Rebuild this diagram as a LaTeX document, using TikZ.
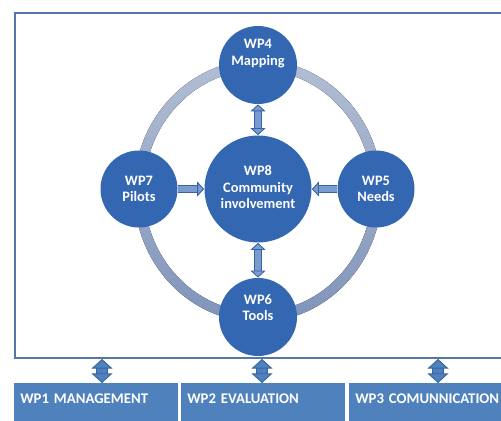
\documentclass[tikz,border=0pt]{standalone}
\usepackage{fontspec}
\setmainfont{Carlito}
\usetikzlibrary{arrows.meta}
\definecolor{wpblue}{RGB}{52,103,178}
\definecolor{ringtop}{RGB}{178,190,212}
\definecolor{ringbot}{RGB}{128,148,186}
\definecolor{framecol}{RGB}{84,118,168}
\definecolor{boxblue}{RGB}{79,129,189}
\definecolor{arrline}{RGB}{58,98,160}
\definecolor{arrfill}{RGB}{120,155,208}
\begin{document}
\begin{tikzpicture}[
  wp/.style={circle,fill=wpblue,text=white,inner sep=0pt,align=center,
    font=\bfseries\fontsize{8.2}{9.5}\selectfont,text depth=2pt},
  wpbox/.style={fill=boxblue,text=white,anchor=north west,align=left,
    font=\bfseries\fontsize{8.4}{9}\selectfont,text width=3.04cm,
    inner xsep=.12cm,inner ysep=.2cm,text height=5.7pt,text depth=1cm},
  link/.style={draw=arrline,double=arrfill,line width=.5pt,double distance=3pt},
  >={Triangle[width=8.5pt,length=4pt,fill=arrfill,line width=.5pt]},
  bigarr/.style={draw=arrline,double=boxblue,line width=.5pt,double distance=5.5pt,
    {Triangle[width=12pt,length=5.5pt,fill=boxblue,line width=.5pt]}-{Triangle[width=12pt,length=5.5pt,fill=boxblue,line width=.5pt]}}]
\useasboundingbox(0,0)rectangle(10.02,8.4);
% frame round the work packages
\node[draw=framecol,line width=1.1pt,anchor=north west,inner sep=0pt,
  minimum width=10.5cm,minimum height=6.9cm](frame)at(0.28,8.16){};
% ring, lighter at the top
\fill[even odd rule,top color=ringtop,bottom color=ringbot]
  (5.16,4.58)ellipse[x radius=2.48cm,y radius=2.62cm]
  (5.16,4.58)ellipse[x radius=2.28cm,y radius=2.42cm];
% circles
\node[wp,minimum size=2.14cm,text height=24.5pt](wp8)at(5.16,4.62){WP8\\Community\\involvement};
\node[wp,minimum size=1.56cm,text height=2.5pt](wp4)at(5.16,7.10){WP4\\Mapping};
\node[wp,minimum size=1.54cm,text height=16.7pt](wp7)at(2.78,4.62){WP7\\Pilots};
\node[wp,minimum size=1.54cm,text height=16.7pt](wp5)at(7.52,4.62){WP5\\Needs};
\node[wp,minimum size=1.56cm,text height=6.5pt](wp6)at(5.16,2.06){WP6\\Tools};
\draw[link,<->](wp4)--(wp8);
\draw[link,<->](wp8)--(wp6);
\draw[link,->](wp7)--(wp8);
\draw[link,->](wp5)--(wp8);
% work packages below
\node[wpbox](b1)at(0.28,0.74){WP1 MANAGEMENT};
\node[wpbox](b2)at(3.62,0.74){WP2 EVALUATION};
\node[wpbox](b3)at(6.98,0.74){WP3 COMUNNICATION};
\draw[bigarr]([xshift=1.76cm]b1.north west)--([xshift=1.76cm]b1.north west|-frame.south);
\draw[bigarr]([xshift=1.62cm]b2.north west)--([xshift=1.62cm]b2.north west|-frame.south);
\draw[bigarr]([xshift=1.78cm]b3.north west)--([xshift=1.78cm]b3.north west|-frame.south);
\end{tikzpicture}
\end{document}
